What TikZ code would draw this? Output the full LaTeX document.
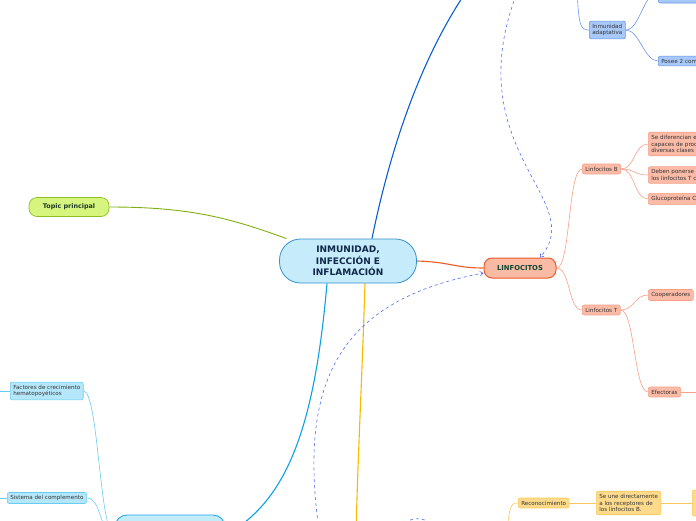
\documentclass[tikz,border=0pt]{standalone}
\usepackage{fontspec}
\setmainfont{DejaVu Sans}
\usepackage{xcolor}
\usetikzlibrary{arrows.meta, positioning, backgrounds, calc}
\definecolor{cenfill}{HTML}{C6ECFB}
\definecolor{cenline}{HTML}{3590CC}
\definecolor{centext}{HTML}{10284A}
\definecolor{topfill}{HTML}{D6F57E}
\definecolor{topline}{HTML}{8CBF26}
\definecolor{toptext}{HTML}{1D3A25}
\definecolor{linffill}{HTML}{F9BBA3}
\definecolor{linfline}{HTML}{EE5A2E}
\definecolor{linftext}{HTML}{0F4530}
\definecolor{salfill}{HTML}{FBBBA6}
\definecolor{salline}{HTML}{F5A08A}
\definecolor{bluefill}{HTML}{A8C8FA}
\definecolor{blueline}{HTML}{6A95E8}
\definecolor{cyanfill}{HTML}{B5E7FB}
\definecolor{cyanline}{HTML}{6ACCF2}
\definecolor{cyanpale}{HTML}{C3ECFB}
\definecolor{cyandeep}{HTML}{20A8E8}
\definecolor{yelfill}{HTML}{FEDB8C}
\definecolor{yelline}{HTML}{F8C95A}
\definecolor{txtgray}{HTML}{333333}
\definecolor{dashblue}{HTML}{4E6EF0}
\definecolor{topblue}{HTML}{0A5FD0}
\definecolor{branchgreen}{HTML}{80B010}
\definecolor{branchyellow}{HTML}{F8B800}
\definecolor{branchcyan}{HTML}{10A0E8}
\definecolor{branchred}{HTML}{F05A28}

\begin{document}
\begin{tikzpicture}[x=1pt, y=-1pt,
  every node/.style={font=\fontsize{5.6}{6.8}\selectfont, text=txtgray},
  leaf/.style={draw, rounded corners=2pt, line width=0.6pt, inner xsep=3pt,
    inner ysep=2.8pt, align=left, anchor=west},
  salmon/.style={leaf, fill=salfill, draw=salline},
  bluebox/.style={leaf, fill=bluefill, draw=blueline},
  cyanbox/.style={leaf, fill=cyanfill, draw=cyanline},
  yellowbox/.style={leaf, fill=yelfill, draw=yelline},
  branch/.style={line width=1.1pt},
  twig/.style={line width=0.6pt},
  relation/.style={dashed, draw=dashblue, line width=0.6pt,
    -{Straight Barb[length=3pt, width=4.5pt]}}
]
  \useasboundingbox (0,0) rectangle (696,520);

  \node[draw=cenline, fill=cenfill, line width=0.8pt, rounded corners=21pt,
    minimum width=137pt, minimum height=44pt, align=center, text=centext,
    font=\bfseries\fontsize{9}{11.5}\selectfont]
    (central) at (348,261) {INMUNIDAD,\\INFECCIÓN E\\INFLAMACIÓN};
  \node[draw=topline, fill=topfill, line width=0.7pt, rounded corners=8pt,
    minimum width=80pt, minimum height=19pt, text=toptext,
    font=\bfseries\fontsize{6.4}{7}\selectfont]
    (topic) at (69,207) {Topic principal};
  \node[draw=linfline, fill=linffill, line width=1pt, rounded corners=8pt,
    minimum width=72pt, minimum height=20pt, text=linftext,
    font=\bfseries\fontsize{6.8}{7}\selectfont]
    (linf) at (520,268) {LINFOCITOS};

  \node[salmon] (linfB) at (582,169) {Linfocitos B};
  \node[salmon] (linfT) at (582,310) {Linfocitos T};
  \node[salmon, text width=64pt] (difer) at (648,144)
    {Se diferencian e\\capaces de proc\\diversas clases};
  \node[salmon, text width=64pt] (deben) at (648,175)
    {Deben ponerse\\los linfocitos T c};
  \node[salmon, text width=64pt] (gluco) at (648,199) {Glucoproteína C};
  \node[salmon] (coop) at (648,295) {Cooperadores};
  \node[salmon] (efec) at (648,392) {Efectoras};

  \node[bluebox] (inmad) at (589,30) {Inmunidad\\adaptativa};
  \node[bluebox, text width=50pt, minimum height=22pt] (bluetop) at (658,-8) {};
  \node[bluebox, text width=50pt] (posee) at (658,61) {Posee 2 com};

  \node[cyanbox] (factores) at (10,391) {Factores de crecimiento\\hematopoyéticos};
  \node[cyanbox] (sistema) at (7,498) {Sistema del complemento};
  \node[draw=cyandeep, fill=cyanpale, line width=0.9pt, rounded corners=12pt,
    minimum width=110pt, minimum height=40pt] (defensa) at (170,535) {};

  \node[yellowbox] (recon) at (518,503) {Reconocimiento};
  \node[yellowbox] (seune) at (596,503)
    {Se une directamente\\a los receptores de\\los linfocitos B.};
  \node[yellowbox, text width=40pt, minimum height=26pt] (yelcut) at (692,503) {};

  \coordinate (topout) at (466,-8);
  \coordinate (yelout) at (356,535);
  \coordinate (adaptout) at (577,-20);
  \coordinate (facout) at (-8,391);
  \coordinate (sisout) at (-8,498);
  \coordinate (efout) at (710,392);
  \coordinate (recout) at (505,545);
  \coordinate (dashtop) at (518,-10);
  \coordinate (dashbot) at (319,530);
  \coordinate (dashA) at (385,545);
  \coordinate (dashB) at (450,545);

  \begin{scope}[on background layer]
    \draw[branch, draw=branchred] (central.east) .. controls (450,262) and (455,268) .. (linf.west);
    \draw[branch, draw=topblue] ([xshift=24pt]central.north) .. controls (390,150) and (420,60) .. (topout);
    \draw[branch, draw=branchyellow] ([xshift=17pt]central.south) .. controls (362,380) and (358,450) .. (yelout);
    \draw[branch, draw=branchcyan] ([xshift=-21pt]central.south) .. controls (315,420) and (290,500) .. (defensa.east);
    \draw[line width=0.9pt, draw=branchgreen] (topic.east) .. controls (190,207) and (230,218) .. (central);

    \foreach \kid in {linfB,linfT}
      \draw[twig, draw=salline] (linf.east) .. controls +(14,0) and +(-14,0) .. (\kid.west);
    \foreach \kid in {difer,deben,gluco}
      \draw[twig, draw=salline] (linfB.east) .. controls +(14,0) and +(-14,0) .. (\kid.west);
    \foreach \kid in {coop,efec}
      \draw[twig, draw=salline] (linfT.east) .. controls +(14,0) and +(-14,0) .. (\kid.west);
    \draw[twig, draw=salline] (efec.east) -- (efout);

    \draw[twig, draw=blueline] (adaptout) .. controls (578,25) and (580,30) .. (inmad.west);
    \foreach \kid in {bluetop,posee}
      \draw[twig, draw=blueline] (inmad.east) .. controls +(14,0) and +(-14,0) .. (\kid.west);

    \foreach \kid in {factores,sistema}
      \draw[twig, draw=cyanline] (\kid.east) .. controls +(15,0) and +(-15,0) .. (defensa.west);
    \draw[twig, draw=cyanline] (factores.west) -- (facout);
    \draw[twig, draw=cyanline] (sistema.west) -- (sisout);

    \draw[twig, draw=yelline] (recout) .. controls (510,505) and (510,503) .. (recon.west);
    \draw[twig, draw=yelline] (recon.east) -- (seune.west);
    \draw[twig, draw=yelline] (seune.east) -- (yelcut.west);
  \end{scope}

  \draw[relation] (dashtop) .. controls (455,150) and (590,200) .. ([xshift=20pt]linf.north);
  \draw[relation] (dashbot) .. controls (298,380) and (340,300) .. ([yshift=-5pt]linf.west);
  \draw[dashed, draw=dashblue, line width=0.6pt] (dashA) .. controls (405,510) and (430,510) .. (dashB);
\end{tikzpicture}
\end{document}
